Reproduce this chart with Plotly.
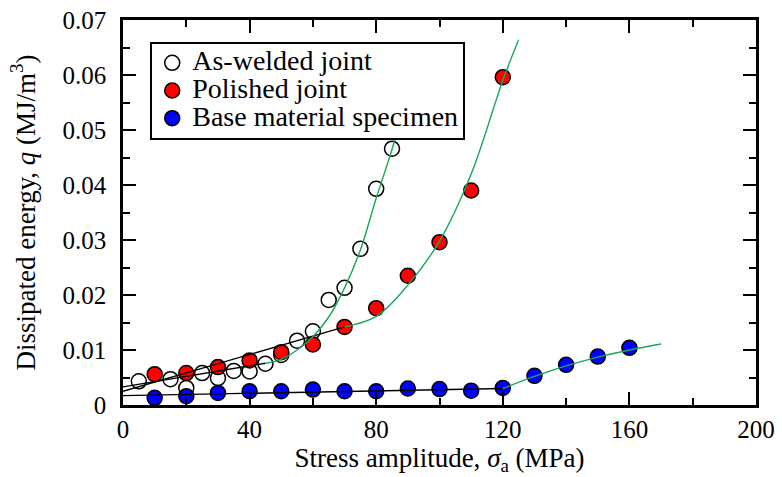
import plotly.graph_objects as go

# ---- data ----
aw_x = [5, 15, 20, 25, 30, 35, 40, 45, 50, 55, 60, 65, 70, 75, 80, 85]
aw_y = [0.0043, 0.0047, 0.0031, 0.0058, 0.0049, 0.0062, 0.0061, 0.0075,
        0.0091, 0.0117, 0.0134, 0.0191, 0.0213, 0.0284, 0.0393, 0.0466]

po_x = [10, 20, 30, 40, 50, 60, 70, 80, 90, 100, 110, 120]
po_y = [0.0056, 0.0058, 0.0069, 0.0081, 0.0096, 0.0110, 0.0142, 0.0176,
        0.0235, 0.0296, 0.0390, 0.0596]

bm_x = [10, 20, 30, 40, 50, 60, 70, 80, 90, 100, 110, 120, 130, 140, 150, 160]
bm_y = [0.0013, 0.0016, 0.0022, 0.0025, 0.0025, 0.0028, 0.0025, 0.0025,
        0.0030, 0.0029, 0.0026, 0.0031, 0.0053, 0.0073, 0.0088, 0.0104]

# fitted curves
aw_lin_x = [0, 45]
aw_lin_y = [0.0033, 0.0076]
aw_cur_x = [45, 50, 55, 60, 65, 70, 75, 80, 85, 90]
aw_cur_y = [0.0076, 0.0083, 0.0100, 0.0124, 0.0160, 0.0213, 0.0282, 0.0376, 0.0465, 0.0570]

po_lin_x = [0, 70]
po_lin_y = [0.0025, 0.0142]
po_cur_x = [70, 80, 90, 100, 110, 120, 125]
po_cur_y = [0.0142, 0.0161, 0.0218, 0.0298, 0.0420, 0.0590, 0.0664]

bm_lin_x = [0, 120]
bm_lin_y = [0.0017, 0.0030]
bm_cur_x = [120, 130, 140, 150, 160, 170]
bm_cur_y = [0.0030, 0.0052, 0.0071, 0.0087, 0.0100, 0.0111]

x_ticks = [0, 40, 80, 120, 160, 200]
y_ticks = [0, 0.01, 0.02, 0.03, 0.04, 0.05, 0.06, 0.07]
y_ticktext = ["0", "0.01", "0.02", "0.03", "0.04", "0.05", "0.06", "0.07"]

names = ["As-welded joint", "Polished joint", "Base material specimen"]

FONT = "Liberation Serif, Times New Roman, serif"
GREEN = "#17a85a"
LEG_FS = 28

fig = go.Figure()

def mk(x, y, fill, name):
    fig.add_trace(go.Scatter(
        x=x, y=y, mode="markers",
        name=f'<span style="font-size:{LEG_FS}px">{name}</span>',
        marker=dict(size=15, color=fill, line=dict(color="black", width=1.5)),
    ))

mk(aw_x, aw_y, "white", names[0])
mk(po_x, po_y, "#ff0000", names[1])
mk(bm_x, bm_y, "#0000ff", names[2])

def ln(x, y, color, shape):
    fig.add_trace(go.Scatter(
        x=x, y=y, mode="lines", showlegend=False, hoverinfo="skip",
        line=dict(color=color, width=1.4, shape=shape),
    ))

ln(aw_lin_x, aw_lin_y, "black", "linear")
ln(po_lin_x, po_lin_y, "black", "linear")
ln(bm_lin_x, bm_lin_y, "black", "linear")
ln(aw_cur_x, aw_cur_y, GREEN, "spline")
ln(po_cur_x, po_cur_y, GREEN, "spline")
ln(bm_cur_x, bm_cur_y, GREEN, "spline")

axis_common = dict(
    showline=True, linecolor="black", linewidth=2.5, mirror="allticks",
    ticks="inside", tickcolor="black", tickwidth=2, ticklen=13,
    showgrid=False, zeroline=False, automargin=False,
    tickfont=dict(family=FONT, size=25, color="black"),
    title_font=dict(family=FONT, size=27, color="black"),
)

fig.update_xaxes(
    range=[0, 200], tickvals=x_ticks,
    minor=dict(dtick=20, ticks="inside", ticklen=7, tickwidth=2, tickcolor="black", showgrid=False),
    title_text="Stress amplitude, <i>σ</i><sub>a</sub> (MPa)",
    title_standoff=5,
    **axis_common,
)
fig.update_yaxes(
    range=[0, 0.07], tickvals=y_ticks, ticktext=y_ticktext,
    minor=dict(dtick=0.005, ticks="inside", ticklen=7, tickwidth=2, tickcolor="black", showgrid=False),
    title_text="Dissipated energy, <i>q</i> (MJ/m<sup>3</sup>)",
    title_standoff=20,
    ticklabelstandoff=9,
    **axis_common,
)

fig.update_layout(
    width=782, height=477,
    margin=dict(l=123, r=26, t=20, b=72),
    paper_bgcolor="white", plot_bgcolor="white",
    font=dict(family=FONT, color="black"),
    showlegend=True,
    legend=dict(
        x=0.043, y=0.943, xanchor="left", yanchor="top",
        bgcolor="white", bordercolor="black", borderwidth=2,
        font=dict(family=FONT, size=19, color="black"),
        tracegroupgap=0,
    ),
)

fig.write_html(
    "out.html",
    config={"displayModeBar": False},
    post_script="document.body.style.margin='0px';document.documentElement.style.overflow='hidden';",
)
